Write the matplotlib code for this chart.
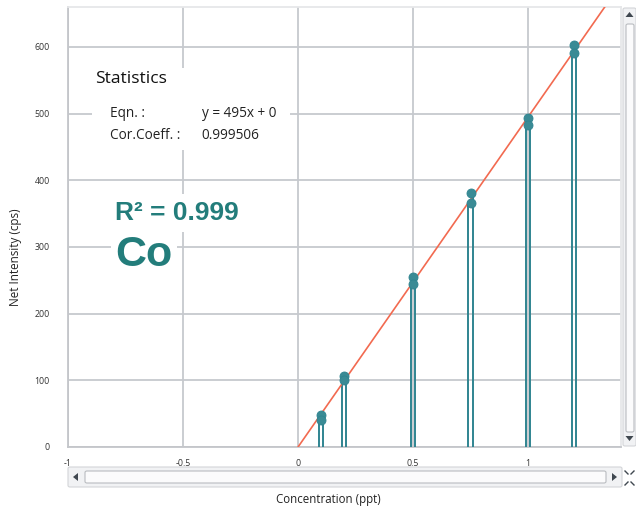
import matplotlib
matplotlib.use("Agg")
import matplotlib.pyplot as plt
from matplotlib.patches import FancyBboxPatch, Rectangle, Polygon
import numpy as np

# Calibration standards (ppt) and two replicate readings (cps) per standard
conc = [0.1, 0.2, 0.5, 0.75, 1.0, 1.2]
rep1 = [48, 107, 255, 381, 493, 603]
rep2 = [40, 100, 245, 366, 483, 591]

slope = 495
intercept = 0
cor_coeff = "0.999506"
r2_label = "R² = 0.999"
element = "Co"

x_ticks = [-1, -0.5, 0, 0.5, 1]
x_ticklabels = ["-1", "-0.5", "0", "0.5", "1"]
y_ticks = [0, 100, 200, 300, 400, 500, 600]

TEAL = "#2f8490"
TEAL_DOT = "#3a8b95"
RED = "#f26a50"
GRID = "#c6c9ce"
TEXT_TEAL = "#237d7b"
UI = ["Open Sans", "DejaVu Sans"]

W, H = 636, 512
fig = plt.figure(figsize=(W / 100, H / 100), dpi=100)
fig.patch.set_facecolor("white")


def fx(px):
    return px / W


def fy(py):
    return 1 - py / H


ax = fig.add_axes([fx(68), fy(447), fx(621) - fx(68), fy(7) - fy(447)])
ax.set_xlim(-1, 1.404)
ax.set_ylim(0, 660)
ax.set_xticks(x_ticks, labels=x_ticklabels)
ax.set_yticks(y_ticks)
ax.grid(True, color=GRID, lw=1.3)
ax.set_axisbelow(True)
ax.tick_params(length=0, labelsize=6.3, colors="#333333")
ax.tick_params(axis="y", pad=13)
ax.tick_params(axis="x", pad=9)
for lab in ax.get_xticklabels() + ax.get_yticklabels():
    lab.set_fontfamily(UI)
for side, sp in ax.spines.items():
    sp.set_color("#c4c6ca" if side in ("left", "bottom") else "#e6e7e9")
    sp.set_linewidth(1.3)

# replicate stems, one per reading, side by side
c = np.array(conc)
off = 0.01
ax.vlines(c - off, 0, rep2, color=TEAL, lw=1.4, zorder=3)
ax.vlines(c + off, 0, rep1, color=TEAL, lw=1.4, zorder=3)

# regression line y = slope*x + intercept
xl = np.array([0, ax.get_xlim()[1]])
ax.plot(xl, slope * xl + intercept, color=RED, lw=1.2, zorder=4)

ax.plot(c, rep1, "o", ms=6.5, color=TEAL_DOT, mec=TEAL, mew=0.6, zorder=5)
ax.plot(c, rep2, "o", ms=6.5, color=TEAL_DOT, mec=TEAL, mew=0.6, zorder=5)

# statistics panel
ax.add_patch(Rectangle((0.043, 0.675), 0.358, 0.186, transform=ax.transAxes,
                       facecolor="white", edgecolor="none", zorder=2))
ax.text(0.049, 0.836, "Statistics", transform=ax.transAxes, fontsize=12.5,
        family=UI, va="center", ha="left", color="#111111", zorder=6)
ax.text(0.076, 0.759, "Eqn. :", transform=ax.transAxes, fontsize=9.8,
        family=UI, va="center", color="#222222", zorder=6)
ax.text(0.242, 0.759, f"y = {slope}x + {intercept}", transform=ax.transAxes,
        fontsize=9.8, family=UI, va="center", color="#222222", zorder=6)
ax.text(0.076, 0.709, "Cor.Coeff. :", transform=ax.transAxes, fontsize=9.8,
        family=UI, va="center", color="#222222", zorder=6)
ax.text(0.242, 0.709, cor_coeff, transform=ax.transAxes, fontsize=9.8,
        family=UI, va="center", color="#222222", zorder=6)

ax.text(0.085, 0.532, r2_label, transform=ax.transAxes, fontsize=19,
        family="Liberation Sans", weight="bold", va="center", color=TEXT_TEAL,
        zorder=6, bbox=dict(boxstyle="square,pad=0.25", fc="white", ec="none"))
ax.text(0.085, 0.436, element, transform=ax.transAxes, fontsize=31,
        family="Liberation Sans", weight="bold", va="center", color=TEXT_TEAL,
        zorder=6, bbox=dict(boxstyle="square,pad=0.1", fc="white", ec="none"))

fig.text(fx(15), fy(257), "Net Intensity (cps)", rotation=90, ha="center",
         va="center", fontsize=8.4, family=UI, color="#222222")
fig.text(fx(328), fy(500), "Concentration (ppt)", ha="center", va="center",
         fontsize=8.3, family=UI, color="#222222")

# scroll bars
def box(x0, y0, x1, y1, fc, ec, r=2):
    fig.add_artist(FancyBboxPatch((fx(x0), fy(y1)), fx(x1) - fx(x0), fy(y0) - fy(y1),
                                  boxstyle=f"round,pad=0,rounding_size={r / W}",
                                  transform=fig.transFigure, fc=fc, ec=ec, lw=0.8))


def tri(pts):
    fig.add_artist(Polygon([(fx(a), fy(b)) for a, b in pts], closed=True,
                           transform=fig.transFigure, fc="#404850", ec="none"))


box(68, 467, 622, 487, "#f1f2f4", "#d3d5d8")
box(85, 471, 606, 483, "#fbfbfc", "#b9bcc0")
tri([(73, 477), (78, 473), (78, 481)])
tri([(617, 477), (612, 473), (612, 481)])
box(623, 8, 636, 446, "#f1f2f4", "#d3d5d8")
box(626, 24, 634, 432, "#fbfbfc", "#b9bcc0")
tri([(629.5, 12), (625.5, 17), (633.5, 17)])
tri([(629.5, 441), (625.5, 436), (633.5, 436)])
# small expand icon in the corner
for (a, b, dx, dy) in [(625, 471, 3, 3), (634, 471, -3, 3), (625, 485, 3, -3), (634, 485, -3, -3)]:
    fig.add_artist(plt.Line2D([fx(a), fx(a + dx)], [fy(b), fy(b + dy)],
                              transform=fig.transFigure, color="#404850", lw=1))

fig.savefig("out.png", dpi=100)
